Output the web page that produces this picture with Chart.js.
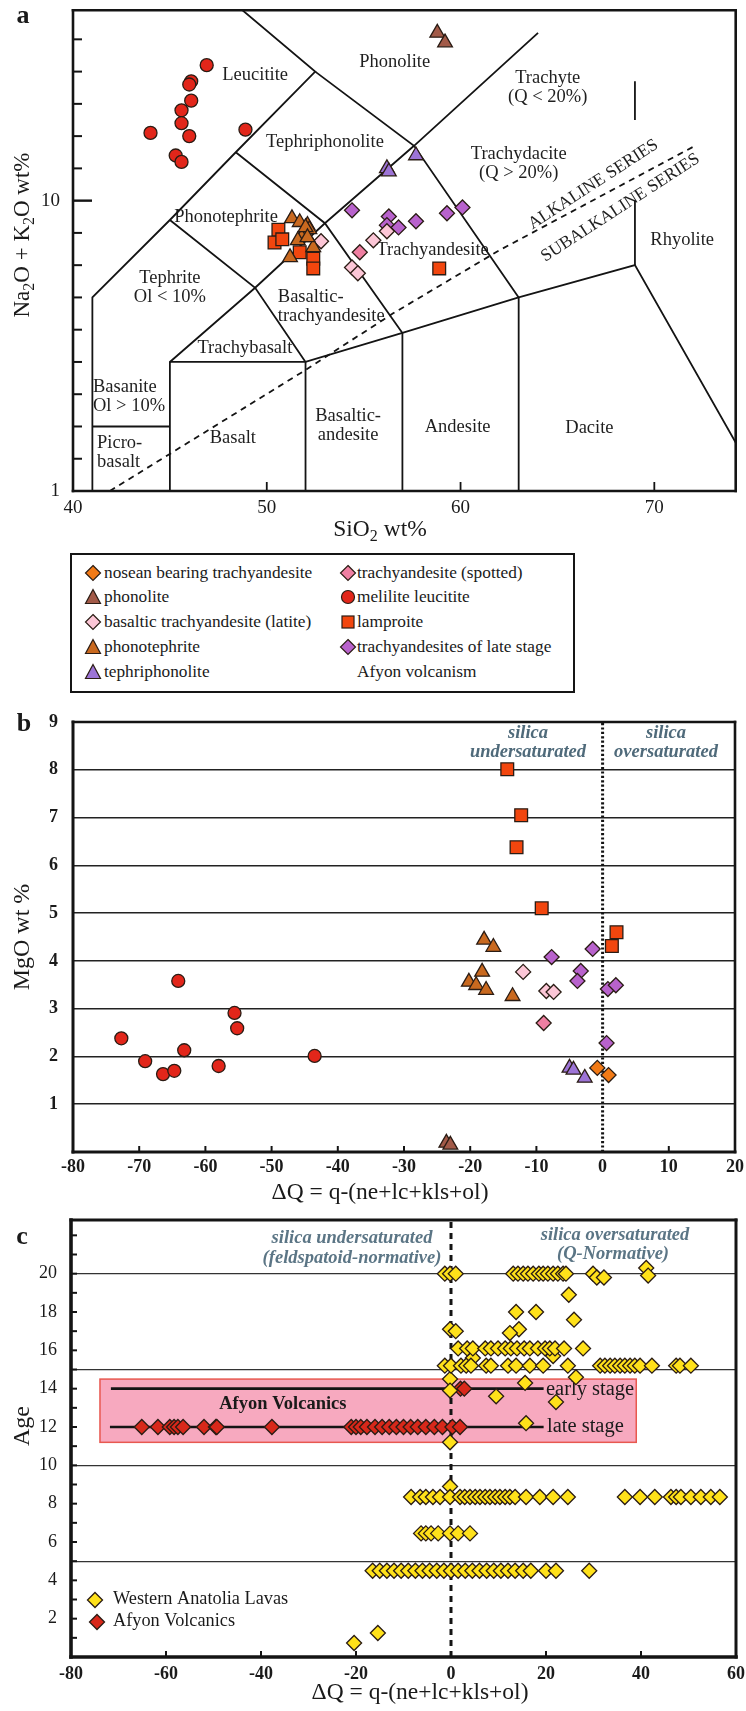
<!DOCTYPE html>
<html>
<head>
<meta charset="utf-8">
<title>TAS and ΔQ diagrams</title>
<script src="https://cdn.jsdelivr.net/npm/chart.js@4.4.1/dist/chart.umd.min.js"></script>
<style>
  body { margin: 0; background: #fff; }
  #page { position: relative; width: 746px; height: 1711px; overflow: hidden;
          font-family: "Liberation Serif", "Times New Roman", serif; color: #1a1a1a; }
  canvas { position: absolute; left: 0; }
  #legA { position: absolute; left: 70px; top: 553px; width: 505px; height: 140px;
          box-sizing: border-box; border: 2.6px solid #151515; }
  .leg { position: absolute; font-size: 17.3px; line-height: 20px; white-space: nowrap; }
</style>
</head>
<body>
<div id="page">
  <canvas id="chartA" width="746" height="550" style="top:0px"></canvas>
  <div id="legA"></div>
  <canvas id="chartB" width="746" height="510" style="top:700px"></canvas>
  <canvas id="chartC" width="746" height="501" style="top:1210px"></canvas>
</div>
<script>
Chart.defaults.font.family = '"Liberation Serif", "Times New Roman", serif';
Chart.defaults.color = '#1a1a1a';

// ---------- panel a : TAS (SiO2 vs Na2O+K2O) ----------
const leuSiO2 = [46.9, 46.1, 46.0, 46.1, 45.6, 45.6, 44.0, 46.0, 48.9, 45.3, 45.6];
const leuAlk  = [14.2, 13.7, 13.6, 13.1, 12.8, 12.4, 12.1, 12.0, 12.2, 11.4, 11.2];
const lamSiO2 = [50.6, 50.4, 50.8, 51.7, 52.4, 52.4, 58.9];
const lamAlk  = [9.1, 8.7, 8.8, 8.4, 8.2, 7.9, 7.9];
const phtSiO2 = [51.3, 51.7, 52.1, 52.2, 51.8, 51.6, 52.4, 51.2, 52.0, 52.1];
const phtAlk  = [9.45, 9.33, 9.24, 9.11, 8.86, 8.77, 8.55, 8.24, 9.17, 8.86];
const phoSiO2 = [58.8, 59.2];
const phoAlk  = [15.2, 14.9];
const tphSiO2 = [56.2, 56.3, 57.7];
const tphAlk  = [11.0, 10.9, 11.4];
const latSiO2 = [52.8, 54.4, 54.7, 55.5, 56.2];
const latAlk  = [8.74, 7.93, 7.75, 8.77, 9.05];
const spoSiO2 = [54.8];
const spoAlk  = [8.4];
const lateSiO2 = [54.4, 56.3, 56.2, 56.8, 57.7, 59.3, 60.1];
const lateAlk  = [9.70, 9.51, 9.24, 9.17, 9.36, 9.61, 9.79];

// field boundaries of the TAS diagram (SiO2, Na2O+K2O)
const tasBoundaries = [
  [[41, 1], [41, 7], [45, 9.4], [48.4, 11.5], [52.5, 14], [48.75, 15.9]],
  [[52.5, 14], [57.6, 11.7], [63, 7]],
  [[45, 1], [45, 5], [49.4, 7.3], [53, 9.3], [57.6, 11.7], [64.0, 15.2]],
  [[45, 9.4], [49.4, 7.3], [52, 5], [52, 1]],
  [[48.4, 11.5], [53, 9.3], [57, 5.9], [57, 1]],
  [[45, 5], [52, 5], [57, 5.9], [63, 7], [69, 8], [74.2, 2.5]],
  [[63, 1], [63, 7]],
  [[41, 3], [45, 3]],
  [[69, 8], [69, 10]],
  [[69, 12.5], [69, 13.7]]
];
const alkDivideSiO2 = [41.9, 52, 56.5, 62, 72.1];
const alkDivideAlk  = [1.0, 4.75, 6.5, 8.46, 11.7];

const fieldNames = ['Leucitite', 'Phonolite', 'Trachyte\n(Q < 20%)', 'Tephriphonolite',
  'Trachydacite\n(Q > 20%)', 'Phonotephrite', 'Tephrite\nOl < 10%', 'Basaltic-\ntrachyandesite',
  'Trachybasalt', 'Trachyandesite', 'Basanite\nOl > 10%', 'Picro-\nbasalt', 'Basalt',
  'Basaltic-\nandesite', 'Andesite', 'Dacite', 'Rhyolite'];
const fieldSiO2 = [49.4, 56.6, 64.5, 53.0, 63.0, 47.9, 45.0, 50.57, 48.87, 58.56, 41.03, 41.24, 48.25, 54.2, 59.85, 66.65, 71.44];
const fieldAlk  = [13.9, 14.3, 13.5, 11.8, 11.15, 9.48, 7.3, 6.72, 5.43, 8.46, 3.91, 2.18, 2.64, 3.04, 2.98, 2.95, 8.77];
const fieldLeft = ['Basaltic-\ntrachyandesite', 'Basanite\nOl > 10%', 'Picro-\nbasalt'];
const seriesNames = ['ALKALINE SERIES', 'SUBALKALINE SERIES'];
const seriesSiO2 = [66.85, 68.25];
const seriesAlk  = [10.5, 9.78];

// ---------- panel b : MgO vs ΔQ ----------
const leuDQ  = [-72.7, -69.1, -66.4, -64.7, -64.1, -63.2, -58.0, -55.6, -55.2, -43.5];
const leuMgO = [2.38, 1.90, 1.63, 1.70, 3.58, 2.13, 1.80, 2.91, 2.59, 2.01];
const lamDQ  = [-14.4, -12.3, -13.0, -9.2, 2.1, 1.4];
const lamMgO = [8.01, 7.05, 6.38, 5.10, 4.60, 4.31];
const phtDQ  = [-17.9, -16.5, -18.2, -20.2, -19.1, -17.6, -13.6];
const phtMgO = [4.44, 4.29, 3.77, 3.56, 3.49, 3.39, 3.26];
const latDQ  = [-12.0, -8.5, -7.4];
const latMgO = [3.77, 3.37, 3.35];
const spoDQ  = [-8.9];
const spoMgO = [2.70];
const lateDQ  = [-7.7, -1.5, -3.3, -3.8, 0.8, 2.0, 0.6];
const lateMgO = [4.08, 4.25, 3.79, 3.58, 3.41, 3.49, 2.28];
const tphDQ  = [-5.0, -4.4, -2.7];
const tphMgO = [1.76, 1.72, 1.55];
const nosDQ  = [-0.8, 0.9];
const nosMgO = [1.76, 1.61];
const phoDQ  = [-23.6, -23.0];
const phoMgO = [0.19, 0.15];

// ---------- panel c : Age vs ΔQ ----------
const walAge20 = 20.0;
const walDQ20 = [-1.3, -0.2, 1.0, 13.1, 14.1, 15.2, 16.2, 17.3, 18.5, 19.4, 20.4, 21.5, 22.5, 23.6, 24.2];
const walAge16 = 16.1;
const walDQ16 = [1.5, 3.4, 4.6, 7.2, 8.4, 9.9, 11.4, 12.6, 13.9, 15.4, 16.6, 18.3, 19.8, 20.8, 21.9, 23.8, 27.8];
const walAge15 = 15.2;
const walDQ15 = [-1.3, 0, 2.1, 3.2, 4.2, 7.4, 8.4, 12.0, 13.7, 16.6, 19.4, 24.6, 31.4, 32.4, 33.5, 34.5,
                 35.6, 36.6, 37.7, 38.7, 39.8, 42.3, 47.4, 48.2, 50.5];
const walAge8 = 8.35;
const walDQ8 = [-8.4, -6.5, -5.3, -3.8, -2.3, -0.2, 1.9, 2.9, 4.0, 5.1, 6.1, 7.2, 8.2, 9.3, 10.3, 11.4, 12.4,
                13.5, 15.8, 18.7, 21.5, 24.6, 36.6, 39.8, 42.9, 46.3, 47.4, 48.4, 50.5, 52.6, 54.7, 56.6];
const walAge6 = 6.45;
const walDQ6 = [-6.3, -5.3, -4.2, -2.7, -0.2, 1.5, 4.0];
const walAge4 = 4.5;
const walDQ4 = [-16.5, -15, -13.5, -12, -10.5, -9, -7.5, -6, -4.5, -3, -1.5, 0, 1.5, 3, 4.5, 6, 7.5, 9,
                10.5, 12, 13.5, 15.2, 16.8, 20.0, 22.1, 29.1];
const walOtherDQ  = [29.9, 30.7, 32.2, 41.1, 41.5, 24.8, 13.7, 17.9, 25.9, -0.2, 1.0, 14.3, 12.4, 4.6, 21.5,
                     26.3, -0.2, -0.2, 15.6, 9.5, 22.1, 15.8, -0.2, -0.2, -20.4, -15.4];
const walOtherAge = [20.0, 19.8, 19.8, 20.3, 19.9, 18.9, 18.0, 18.0, 17.6, 17.1, 17.0, 17.1, 16.9, 15.6, 15.7,
                     14.6, 14.5, 13.9, 14.3, 13.6, 13.3, 12.2, 11.2, 8.9, 0.73, 1.25];
const stageAges = [14, 12];
const afyEarlyDQ = [2.0, 2.8];
const afyLateDQ = [-65.1, -61.7, -59.2, -58.3, -57.5, -56.4, -52.0, -49.5, -49.3, -37.7, -21.0, -20.0, -19.0,
                   -17.7, -16.0, -14.5, -13.0, -11.5, -10.0, -8.5, -7.0, -5.3, -3.5, -1.8, 0.3, 1.9];
const earlyLineDQ = [-71.6, 19.5];
const lateLineDQ  = [-71.8, 19.5];
const afyonBoxDQ  = [-73.9, 39.0];
const afyonBoxAge = [11.2, 14.5];

// ---------- styles ----------
const kinds = {
  nosean:          { label: 'nosean bearing trachyandesite', shape: 'rectRot', fill: '#f27a16', r: 7.5 },
  phonolite:       { label: 'phonolite', shape: 'triangle', fill: '#a25a48', r: 8.5 },
  latite:          { label: 'basaltic trachyandesite (latite)', shape: 'rectRot', fill: '#fcc6d6', r: 7.5 },
  phonotephrite:   { label: 'phonotephrite', shape: 'triangle', fill: '#c9691f', r: 8.5 },
  tephriphonolite: { label: 'tephriphonolite', shape: 'triangle', fill: '#9d74d6', r: 8.5 },
  spotted:         { label: 'trachyandesite (spotted)', shape: 'rectRot', fill: '#ef7fa2', r: 7.5 },
  melilite:        { label: 'melilite leucitite', shape: 'circle', fill: '#e2261a', r: 6.5 },
  lamproite:       { label: 'lamproite', shape: 'rect', fill: '#f2460e', r: 9 },
  late:            { label: 'trachyandesites of late stage', shape: 'rectRot', fill: '#b862cc', r: 7.5 },
  wal:             { label: 'Western Anatolia Lavas', shape: 'rectRot', fill: '#ffe11a', r: 7.5 },
  afyon:           { label: 'Afyon Volcanics', shape: 'rectRot', fill: '#d8281a', r: 7.5 }
};
const SERIF = '"Liberation Serif", "Times New Roman", serif';

function pts(xs, ys) { return xs.map((x, i) => ({ x: x, y: ys[i] })); }
function row(xs, y) { return xs.map(x => ({ x: x, y: y })); }

function markSet(kind, data) {
  const k = kinds[kind];
  return { label: k.label, data: data, pointStyle: k.shape, pointRadius: k.r,
           backgroundColor: k.fill, borderColor: '#2a1c14', borderWidth: 1.3, order: 1 };
}
function lineSet(data, width, dash) {
  return { data: data, showLine: true, pointRadius: 0, borderColor: '#141414',
           borderWidth: width, borderDash: dash || [], order: 5 };
}

function fixW(w) {
  return function (s) { s.width = w; s.paddingTop = 0; s.paddingBottom = 0; s.paddingLeft = 0; s.paddingRight = 0; };
}
function fixH(h) {
  return function (s) { s.height = h; s.paddingTop = 0; s.paddingBottom = 0; s.paddingLeft = 0; s.paddingRight = 0; };
}

function seg(ctx, x1, y1, x2, y2, w) {
  ctx.lineWidth = w;
  ctx.beginPath(); ctx.moveTo(x1, y1); ctx.lineTo(x2, y2); ctx.stroke();
}
function frame(ctx, a, wl, wb, wt, wr) {
  ctx.save();
  ctx.strokeStyle = '#141414';
  ctx.lineCap = 'square';
  seg(ctx, a.left, a.top, a.right, a.top, wt);
  seg(ctx, a.right, a.top, a.right, a.bottom, wr);
  seg(ctx, a.left, a.bottom, a.right, a.bottom, wb);
  seg(ctx, a.left, a.top, a.left, a.bottom, wl);
  ctx.restore();
}
function ticksIn(chart, axis, values, len, w) {
  const ctx = chart.ctx, a = chart.chartArea, s = chart.scales[axis];
  ctx.save();
  ctx.strokeStyle = '#141414';
  values.forEach(v => {
    const p = s.getPixelForValue(v);
    if (axis === 'x') seg(ctx, p, a.bottom, p, a.bottom - len, w);
    else seg(ctx, a.left, p, a.left + len, p, w);
  });
  ctx.restore();
}
// parts alternate normal / subscript
function subText(ctx, parts, cx, cy, size, rotate) {
  ctx.save();
  ctx.translate(cx, cy);
  if (rotate) ctx.rotate(-Math.PI / 2);
  const big = size + 'px ' + SERIF, small = Math.round(size * 0.68) + 'px ' + SERIF;
  let total = 0;
  parts.forEach((p, i) => { ctx.font = i % 2 ? small : big; total += ctx.measureText(p).width; });
  let x = -total / 2;
  ctx.textAlign = 'left';
  ctx.textBaseline = 'middle';
  ctx.fillStyle = '#1a1a1a';
  parts.forEach((p, i) => {
    ctx.font = i % 2 ? small : big;
    ctx.fillText(p, x, i % 2 ? size * 0.3 : 0);
    x += ctx.measureText(p).width;
  });
  ctx.restore();
}
function text(ctx, s, x, y, font, align, color) {
  ctx.save();
  ctx.font = font;
  ctx.fillStyle = color || '#1a1a1a';
  ctx.textAlign = align || 'center';
  ctx.textBaseline = 'middle';
  ctx.fillText(s, x, y);
  ctx.restore();
}
function diamond(ctx, x, y, r, fill) {
  ctx.save();
  ctx.fillStyle = fill; ctx.strokeStyle = '#2a1c14'; ctx.lineWidth = 1.3;
  ctx.beginPath();
  ctx.moveTo(x, y - r); ctx.lineTo(x + r, y); ctx.lineTo(x, y + r); ctx.lineTo(x - r, y);
  ctx.closePath(); ctx.fill(); ctx.stroke();
  ctx.restore();
}

const baseOptions = {
  responsive: false, animation: false, events: [], devicePixelRatio: 1,
  plugins: { legend: { display: false }, tooltip: { enabled: false } }
};

// ================= chart a =================
const tasDecor = {
  id: 'tasDecor',
  beforeDatasetsDraw(chart) {
    const ctx = chart.ctx, sx = chart.scales.x, sy = chart.scales.y;
    ctx.save();
    ctx.font = '18.5px ' + SERIF;
    ctx.fillStyle = '#1f1f1f';
    ctx.textBaseline = 'middle';
    fieldNames.forEach((name, i) => {
      const left = fieldLeft.indexOf(name) >= 0;
      const lines = name.split('\n');
      const x = sx.getPixelForValue(fieldSiO2[i]);
      const y0 = sy.getPixelForValue(fieldAlk[i]) - (lines.length - 1) * 9.5;
      ctx.textAlign = left ? 'left' : 'center';
      lines.forEach((s, j) => ctx.fillText(s, x, y0 + j * 19));
    });
    ctx.restore();
    // series labels along the alkaline / subalkaline divide
    seriesNames.forEach((name, i) => {
      ctx.save();
      ctx.translate(sx.getPixelForValue(seriesSiO2[i]), sy.getPixelForValue(seriesAlk[i]));
      ctx.rotate(-33 * Math.PI / 180);
      ctx.font = '17.5px ' + SERIF;
      ctx.fillStyle = '#1f1f1f';
      ctx.textAlign = 'center';
      ctx.textBaseline = 'middle';
      ctx.fillText(name, 0, 0);
      ctx.restore();
    });
  },
  afterDraw(chart) {
    const ctx = chart.ctx;
    frame(ctx, chart.chartArea, 2.6, 2.6, 2.6, 2.6);
    ticksIn(chart, 'y', [2, 3, 4, 5, 6, 7, 8, 9, 11, 12, 13, 14, 15], 9, 2);
    ticksIn(chart, 'y', [10], 19, 2.4);
    ticksIn(chart, 'x', [50, 60, 70], 9, 1.8);
    subText(ctx, ['Na', '2', 'O + K', '2', 'O wt%'], 23, 235, 23, true);
    subText(ctx, ['SiO', '2', ' wt%'], 380, 530, 23.5, false);
    text(ctx, 'a', 23, 16, 'bold 26px ' + SERIF);
  }
};

const datasetsA = [
  markSet('melilite', pts(leuSiO2, leuAlk)),
  markSet('phonotephrite', pts(phtSiO2, phtAlk)),
  markSet('lamproite', pts(lamSiO2, lamAlk)),
  markSet('phonolite', pts(phoSiO2, phoAlk)),
  markSet('tephriphonolite', pts(tphSiO2, tphAlk)),
  markSet('latite', pts(latSiO2, latAlk)),
  markSet('spotted', pts(spoSiO2, spoAlk)),
  markSet('late', pts(lateSiO2, lateAlk)),
  lineSet(pts(alkDivideSiO2, alkDivideAlk), 1.8, [6, 5])
];
tasBoundaries.forEach(b => datasetsA.push(lineSet(b.map(p => ({ x: p[0], y: p[1] })), 1.8)));

new Chart(document.getElementById('chartA'), {
  type: 'scatter',
  data: { datasets: datasetsA },
  options: Object.assign({}, baseOptions, {
    layout: { padding: { left: 0, top: 10, right: 10, bottom: 0 } },
    scales: {
      x: { type: 'linear', min: 40, max: 74.2,
           ticks: { stepSize: 10, padding: 6, autoSkip: false, maxRotation: 0, font: { size: 19 },
                    callback: v => (v % 10 === 0 ? v : '') },
           grid: { display: false, drawTicks: false }, border: { display: false }, afterFit: fixH(59) },
      y: { type: 'linear', min: 1, max: 15.9,
           ticks: { stepSize: 1, padding: 13, autoSkip: false, font: { size: 19 },
                    callback: v => (v === 1 || v === 10 ? v : '') },
           grid: { display: false, drawTicks: false }, border: { display: false }, afterFit: fixW(73) }
    }
  }),
  plugins: [tasDecor]
});

// ---------- legend of panel a (html) ----------
const page = document.getElementById('page');
const legRows = [573, 597, 622, 647, 672];
const legLeft = ['nosean', 'phonolite', 'latite', 'phonotephrite', 'tephriphonolite'];
const legRight = ['spotted', 'melilite', 'lamproite', 'late'];
function legendMark(kind, cx, cy) {
  const k = kinds[kind], ns = 'http://www.w3.org/2000/svg';
  const svg = document.createElementNS(ns, 'svg');
  svg.setAttribute('width', 18); svg.setAttribute('height', 18);
  svg.style.position = 'absolute'; svg.style.left = (cx - 9) + 'px'; svg.style.top = (cy - 9) + 'px';
  let el;
  if (k.shape === 'circle') {
    el = document.createElementNS(ns, 'circle');
    el.setAttribute('cx', 9); el.setAttribute('cy', 9); el.setAttribute('r', 6.5);
  } else if (k.shape === 'rect') {
    el = document.createElementNS(ns, 'rect');
    el.setAttribute('x', 3); el.setAttribute('y', 3); el.setAttribute('width', 12); el.setAttribute('height', 12);
  } else {
    el = document.createElementNS(ns, 'polygon');
    el.setAttribute('points', k.shape === 'triangle' ? '9,1.5 16.5,15.5 1.5,15.5' : '9,1.5 16.5,9 9,16.5 1.5,9');
  }
  el.setAttribute('fill', k.fill); el.setAttribute('stroke', '#2a1c14'); el.setAttribute('stroke-width', 1.2);
  svg.appendChild(el);
  page.appendChild(svg);
}
function legendText(s, x, cy) {
  const d = document.createElement('div');
  d.className = 'leg';
  d.textContent = s;
  d.style.left = x + 'px';
  d.style.top = (cy - 10) + 'px';
  page.appendChild(d);
}
legLeft.forEach((k, i) => { legendMark(k, 93, legRows[i]); legendText(kinds[k].label, 104, legRows[i]); });
legRight.forEach((k, i) => { legendMark(k, 348, legRows[i]); legendText(kinds[k].label, 357, legRows[i]); });
legendText('Afyon volcanism', 357, legRows[4]);

// ================= chart b =================
const mgoDecor = {
  id: 'mgoDecor',
  afterDraw(chart) {
    const ctx = chart.ctx;
    frame(ctx, chart.chartArea, 3, 3, 2.6, 2.6);
    ticksIn(chart, 'x', [-70, -60, -50, -40, -30, -20, -10, 10], 6, 2);
    const f = 'italic bold 18.5px ' + SERIF, c = '#4f6a7a';
    text(ctx, 'silica', 528, 33, f, 'center', c);
    text(ctx, 'undersaturated', 528, 52, f, 'center', c);
    text(ctx, 'silica', 666, 33, f, 'center', c);
    text(ctx, 'oversaturated', 666, 52, f, 'center', c);
    text(ctx, 'b', 24, 24, 'bold 26px ' + SERIF);
    subText(ctx, ['MgO wt %'], 23, 237, 24, true);
    subText(ctx, ['ΔQ = q-(ne+lc+kls+ol)'], 380, 493, 23.5, false);
  }
};

new Chart(document.getElementById('chartB'), {
  type: 'scatter',
  data: { datasets: [
    markSet('melilite', pts(leuDQ, leuMgO)),
    markSet('lamproite', pts(lamDQ, lamMgO)),
    markSet('phonotephrite', pts(phtDQ, phtMgO)),
    markSet('latite', pts(latDQ, latMgO)),
    markSet('spotted', pts(spoDQ, spoMgO)),
    markSet('late', pts(lateDQ, lateMgO)),
    markSet('tephriphonolite', pts(tphDQ, tphMgO)),
    markSet('nosean', pts(nosDQ, nosMgO)),
    markSet('phonolite', pts(phoDQ, phoMgO)),
    lineSet([{ x: 0, y: 0 }, { x: 0, y: 9 }], 3, [2.2, 2.2])
  ] },
  options: Object.assign({}, baseOptions, {
    layout: { padding: { left: 0, top: 22, right: 11, bottom: 0 } },
    scales: {
      x: { type: 'linear', min: -80, max: 20,
           ticks: { stepSize: 10, padding: 5, autoSkip: false, maxRotation: 0, font: { size: 18, weight: 'bold' } },
           grid: { display: false, drawTicks: false }, border: { display: false }, afterFit: fixH(58) },
      y: { type: 'linear', min: 0, max: 9,
           ticks: { stepSize: 1, padding: 15, autoSkip: false, font: { size: 18, weight: 'bold' },
                    callback: v => (v === 0 ? '' : v) },
           grid: { drawTicks: false, lineWidth: 1.6,
                   color: c => (c.tick && c.tick.value > 0 && c.tick.value < 9 ? '#222' : 'rgba(0,0,0,0)') },
           border: { display: false }, afterFit: fixW(73) }
    }
  }),
  plugins: [mgoDecor]
});

// ================= chart c =================
const ageDecor = {
  id: 'ageDecor',
  beforeDatasetsDraw(chart) {
    const ctx = chart.ctx, sx = chart.scales.x, sy = chart.scales.y;
    const x1 = sx.getPixelForValue(afyonBoxDQ[0]), x2 = sx.getPixelForValue(afyonBoxDQ[1]);
    const y1 = sy.getPixelForValue(afyonBoxAge[1]), y2 = sy.getPixelForValue(afyonBoxAge[0]);
    ctx.save();
    ctx.fillStyle = '#f7a9bf';
    ctx.strokeStyle = '#e8584f';
    ctx.lineWidth = 1.5;
    ctx.fillRect(x1, y1, x2 - x1, y2 - y1);
    ctx.strokeRect(x1, y1, x2 - x1, y2 - y1);
    ctx.restore();
    text(ctx, 'Afyon Volcanics', sx.getPixelForValue(-35.4), sy.getPixelForValue(13.2), 'bold 18.5px ' + SERIF);
    text(ctx, 'early stage', sx.getPixelForValue(20.0), sy.getPixelForValue(13.95), '20.5px ' + SERIF, 'left');
    text(ctx, 'late stage', sx.getPixelForValue(20.2), sy.getPixelForValue(12.0), '20.5px ' + SERIF, 'left');
  },
  afterDraw(chart) {
    const ctx = chart.ctx;
    frame(ctx, chart.chartArea, 3.6, 3.6, 3, 3);
    ticksIn(chart, 'x', [-60, -40, -20, 20, 40], 6, 2);
    ticksIn(chart, 'y', [1, 2, 3, 4, 5, 6, 7, 8, 9, 10, 11, 12, 13, 14, 15, 16, 17, 18, 19, 20, 21, 22], 6, 2);
    const f = 'italic bold 18.5px ' + SERIF, c = '#5b7585';
    text(ctx, 'silica undersaturated', 352, 28, f, 'center', c);
    text(ctx, '(feldspatoid-normative)', 352, 48, f, 'center', c);
    text(ctx, 'silica oversaturated', 615, 25, f, 'center', c);
    text(ctx, '(Q-Normative)', 613, 44, f, 'center', c);
    diamond(ctx, 95, 390, 7.5, kinds.wal.fill);
    diamond(ctx, 97, 412, 7.5, kinds.afyon.fill);
    text(ctx, kinds.wal.label, 113, 389, '18.3px ' + SERIF, 'left');
    text(ctx, kinds.afyon.label, 113, 411, '18.3px ' + SERIF, 'left');
    text(ctx, 'c', 22, 27, 'bold 26px ' + SERIF);
    subText(ctx, ['Age'], 23, 216, 24, true);
    subText(ctx, ['ΔQ = q-(ne+lc+kls+ol)'], 420, 483, 23.5, false);
  }
};

new Chart(document.getElementById('chartC'), {
  type: 'scatter',
  data: { datasets: [
    markSet('wal', row(walDQ20, walAge20)),
    markSet('wal', row(walDQ16, walAge16)),
    markSet('wal', row(walDQ15, walAge15)),
    markSet('wal', row(walDQ8, walAge8)),
    markSet('wal', row(walDQ6, walAge6)),
    markSet('wal', row(walDQ4, walAge4)),
    markSet('wal', pts(walOtherDQ, walOtherAge)),
    markSet('afyon', row(afyEarlyDQ, stageAges[0])),
    markSet('afyon', row(afyLateDQ, stageAges[1])),
    lineSet(row(earlyLineDQ, stageAges[0]), 2.6),
    lineSet(row(lateLineDQ, stageAges[1]), 2.6),
    lineSet([{ x: 0, y: 0 }, { x: 0, y: 22.8 }], 3, [6, 5])
  ] },
  options: Object.assign({}, baseOptions, {
    layout: { padding: { left: 0, top: 10, right: 10, bottom: 0 } },
    scales: {
      x: { type: 'linear', min: -80, max: 60,
           ticks: { stepSize: 20, padding: 7, autoSkip: false, maxRotation: 0, font: { size: 18, weight: 'bold' } },
           grid: { display: false, drawTicks: false }, border: { display: false }, afterFit: fixH(54) },
      y: { type: 'linear', min: 0, max: 22.8,
           ticks: { stepSize: 1, padding: 14, autoSkip: false, font: { size: 18 },
                    callback: v => (v > 0 && v <= 22 && v % 2 === 0 ? v : '') },
           grid: { drawTicks: false, lineWidth: 1.2,
                   color: c => (c.tick && c.tick.value > 0 && c.tick.value < 22 && c.tick.value % 5 === 0 ? '#333' : 'rgba(0,0,0,0)') },
           border: { display: false }, afterFit: fixW(71) }
    }
  }),
  plugins: [ageDecor]
});
</script>
</body>
</html>
